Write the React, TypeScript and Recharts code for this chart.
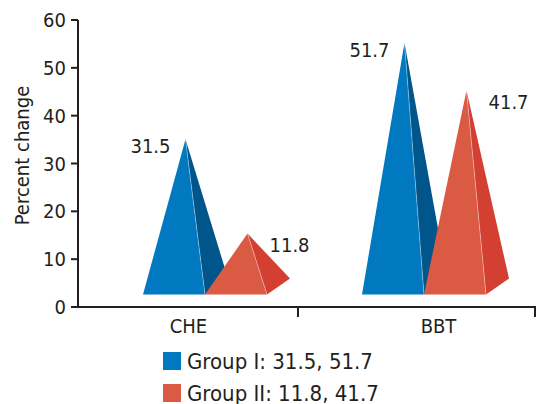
import { BarChart, Bar, XAxis, YAxis, Legend, LabelList } from 'recharts'

const categories = ['CHE', 'BBT']
const groupI = [31.5, 51.7]
const groupII = [11.8, 41.7]
const yTicks = [0, 10, 20, 30, 40, 50, 60]

const data = categories.map((name, i) => ({ name, g1: groupI[i], g2: groupII[i] }))

const FONT = "'Liberation Sans Narrow', 'DejaVu Sans Condensed', 'Roboto Condensed', Roboto, sans-serif"
const INK = '#231f20'

// front face / right face
const BLUE = ['#0079c1', '#00558a']
const RED = ['#db5a43', '#d33f31']

const W = 547
const H = 404
const PLOT_LEFT = 78
const PAD_LEFT = 17
const PAD_RIGHT = 2
const MARGIN_RIGHT = 12
const BAND = (W - PLOT_LEFT - MARGIN_RIGHT - PAD_LEFT - PAD_RIGHT) / categories.length

// pseudo 3D pyramid
const DEPTH_X = 23
const DEPTH_Y = 16
const LIFT = 12.5
const PEAK = 17

const apexOf = (x: number, width: number, y: number) => ({ ax: x + width / 2 + DEPTH_X / 2, ay: y - PEAK })

function pyramid(colors: string[]) {
  // eslint-disable-next-line @typescript-eslint/no-explicit-any
  return (props: any) => {
    const { x, y, width, height } = props
    const base = y + height - LIFT
    const fr = x + width
    const { ax, ay } = apexOf(x, width, y)
    return (
      <g>
        <polygon points={`${fr},${base} ${fr + DEPTH_X},${base - DEPTH_Y} ${ax},${ay}`} fill={colors[1]} />
        <polygon points={`${x},${base} ${fr},${base} ${ax},${ay}`} fill={colors[0]} />
        <line x1={fr} y1={base} x2={ax} y2={ay} stroke="#fff" strokeOpacity={0.35} strokeWidth={1} />
      </g>
    )
  }
}

// eslint-disable-next-line @typescript-eslint/no-explicit-any
const labelLeft = (props: any) => {
  const { x, y, width, value } = props
  const { ax, ay } = apexOf(x, width, y)
  return <text x={ax - 15} y={ay + 14} textAnchor="end" fill={INK} fontSize={20} fontFamily={FONT}>{value}</text>
}

// eslint-disable-next-line @typescript-eslint/no-explicit-any
const labelRight = (props: any) => {
  const { x, y, width, value } = props
  const { ax, ay } = apexOf(x, width, y)
  return <text x={ax + 22} y={ay + 18} textAnchor="start" fill={INK} fontSize={20} fontFamily={FONT}>{value}</text>
}

const LABEL_DX = [-16, 15]
const MARK_DX = [-16, 2]

// eslint-disable-next-line @typescript-eslint/no-explicit-any
const XTick = (props: any) => {
  const { x, y, payload, index } = props
  const mx = x + BAND / 2 + MARK_DX[index]
  return (
    <g>
      <line x1={mx} y1={y - 9} x2={mx} y2={y + 2} stroke={INK} strokeWidth={2} />
      <text x={x + LABEL_DX[index]} y={y + 18} textAnchor="middle" fill={INK} fontSize={20} fontFamily={FONT}>{payload.value}</text>
    </g>
  )
}

// eslint-disable-next-line @typescript-eslint/no-explicit-any
const LegendBox = (props: any) => (
  <div style={{ fontFamily: FONT, fontSize: 22, color: INK }}>
    {/* eslint-disable-next-line @typescript-eslint/no-explicit-any */}
    {props.payload.map((p: any) => (
      <div key={p.value} style={{ display: 'flex', alignItems: 'center', height: 32 }}>
        <span style={{ width: 18, height: 18, background: p.color, marginRight: 6 }} />
        <span>{p.value}</span>
      </div>
    ))}
  </div>
)

export default function App() {
  return (
    <div style={{ position: 'absolute', left: 0, top: 0, width: W, height: H, background: '#fff' }}>
      <BarChart width={W} height={H} data={data} margin={{ top: 20, right: MARGIN_RIGHT, left: 0, bottom: 67 }} barGap={0} barSize={62}>
        <XAxis
          dataKey="name"
          padding={{ left: PAD_LEFT, right: PAD_RIGHT }}
          axisLine={{ stroke: INK, strokeWidth: 2 }}
          tickLine={false}
          tick={<XTick />}
          height={30}
          interval={0}
        />
        <YAxis
          domain={[0, 60]}
          ticks={yTicks}
          width={78}
          tickSize={7}
          tickMargin={5}
          axisLine={{ stroke: INK, strokeWidth: 2 }}
          tickLine={{ stroke: INK, strokeWidth: 2 }}
          tick={{ fill: INK, fontSize: 20, fontFamily: FONT }}
          label={{
            // eslint-disable-next-line @typescript-eslint/no-explicit-any
            content: (p: any) => {
              const cy = p.viewBox.y + p.viewBox.height / 2 - 8
              return (
                <text x={29} y={cy} transform={`rotate(-90, 29, ${cy})`} textAnchor="middle" fill={INK} fontSize={20} fontFamily={FONT}>
                  Percent change
                </text>
              )
            },
          }}
        />
        <Legend
          layout="vertical"
          align="center"
          verticalAlign="middle"
          content={<LegendBox />}
          wrapperStyle={{ left: 163, top: 345, width: 320 }}
        />
        <Bar dataKey="g1" name={`Group I: ${groupI.join(', ')}`} fill={BLUE[0]} shape={pyramid(BLUE)} isAnimationActive={false}>
          <LabelList dataKey="g1" content={labelLeft} />
        </Bar>
        <Bar dataKey="g2" name={`Group II: ${groupII.join(', ')}`} fill={RED[0]} shape={pyramid(RED)} isAnimationActive={false}>
          <LabelList dataKey="g2" content={labelRight} />
        </Bar>
      </BarChart>
    </div>
  )
}
